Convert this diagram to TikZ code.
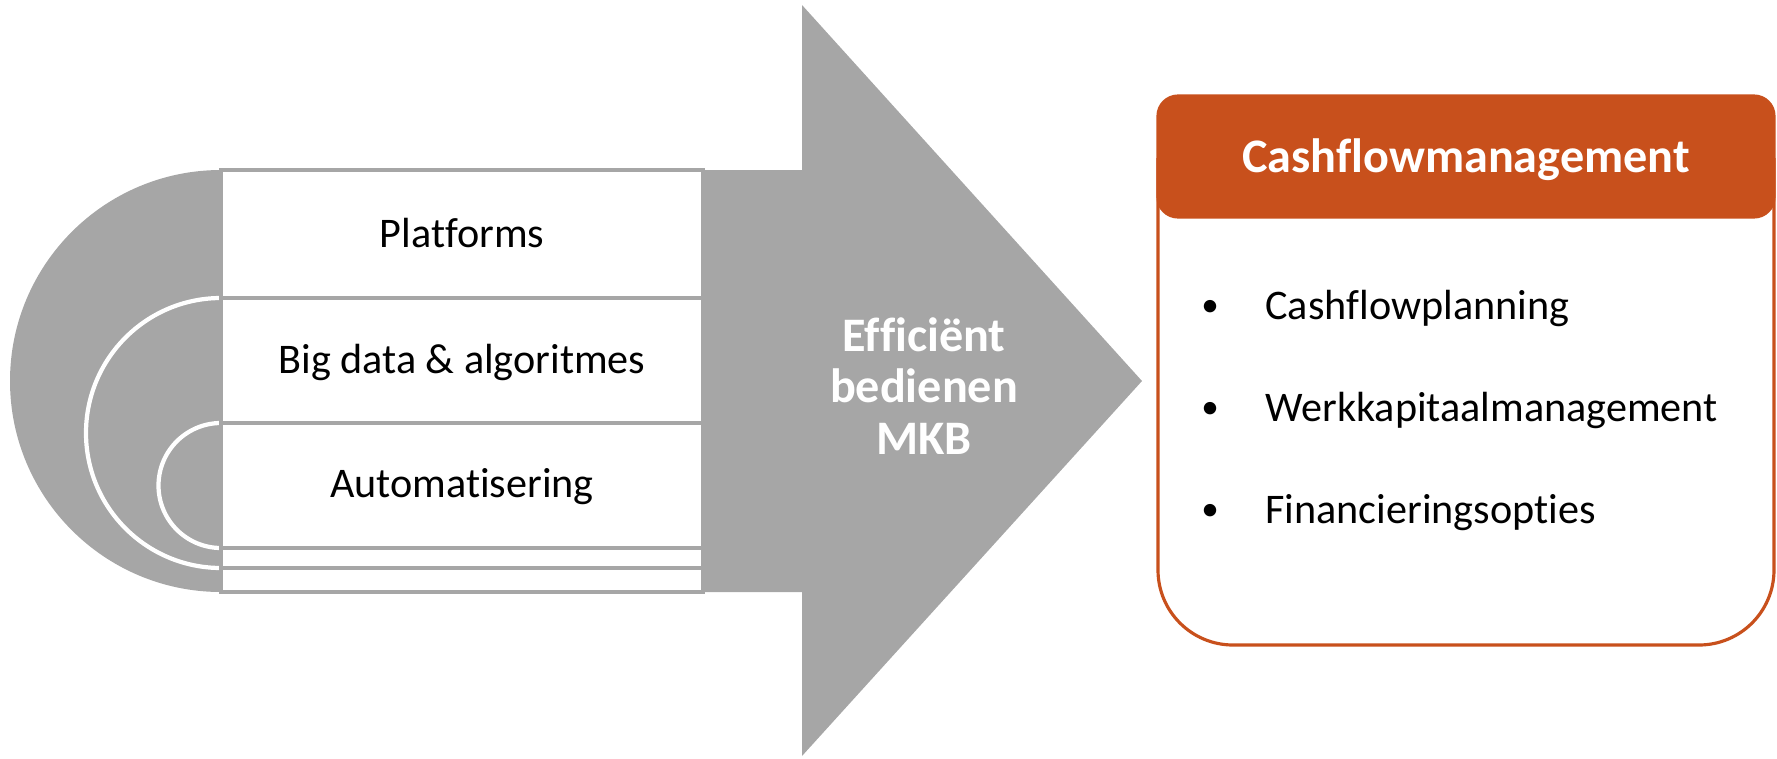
\documentclass[tikz,border=0pt]{standalone}
\usepackage{fontspec}
\setmainfont{Carlito}[Ligatures=NoCommon]
\definecolor{arrowgrey}{HTML}{A6A6A6}
\definecolor{rust}{RGB}{200,80,28}

\begin{document}
\begin{tikzpicture}[
	row/.style={draw=arrowgrey,line width=1.4pt,fill=white},
	ring/.style={draw=white,line width=1.2pt},
	rowtext/.style={anchor=base,font=\fontsize{12}{14}\selectfont},
	item/.style={anchor=base west,font=\fontsize{12}{14}\selectfont},
	dot/.style={anchor=base,font=\fontsize{10}{14}\selectfont},
	boldtext/.style={text=white,font=\fontsize{13.7}{14.7}\selectfont\bfseries}
]
\useasboundingbox (0,0) rectangle (17.77,7.58);
% arrow
\fill[arrowgrey] (2.21,5.88) arc[start angle=90,end angle=270,radius=2.11] -- (8.02,1.66) -- (8.02,0.02) -- (11.42,3.77) -- (8.02,7.53) -- (8.02,5.88) -- cycle;
\draw[ring] (2.21,4.60) arc[start angle=90,end angle=270,radius=1.35];
\draw[ring] (2.21,3.35) arc[start angle=90,end angle=270,radius=0.625];
% rows
\draw[row] (2.21,5.88) rectangle (7.03,4.60);
\draw[row] (2.21,4.60) rectangle (7.03,3.35);
\draw[row] (2.21,3.35) rectangle (7.03,2.10);
\draw[row] (2.21,2.10) rectangle (7.03,1.90);
\draw[row] (2.21,1.90) rectangle (7.03,1.66);
\node[rowtext] (platforms) at (4.62,5.105) {Platforms};
\node[rowtext] (bigdata) at (4.62,3.85) {Big data \& algoritmes};
\node[rowtext] (automatisering) at (4.62,2.61) {Automatisering};
\node[boldtext,align=center] (mkb) at (9.24,3.72) {Efficiënt\\bedienen\\MKB};
% box
\draw[rust,line width=0.9pt,rounded corners=0.75cm] (11.58,6.0) -- (11.58,1.13) -- (17.74,1.13) -- (17.74,6.0);
\draw[rust,fill=rust,line width=0.9pt,rounded corners=0.2cm] (11.58,5.41) rectangle (17.74,6.62);
\node[boldtext,anchor=base] (cashflow) at (14.66,5.86) {Cashflowmanagement};
\node[dot] (dot1) at (12.10,4.42) {\textbullet};
\node[item] (planning) at (12.53,4.39) {Cashflowplanning};
\node[dot] (dot2) at (12.10,3.40) {\textbullet};
\node[item] (werkkapitaal) at (12.53,3.37) {Werkkapitaalmanagement};
\node[dot] (dot3) at (12.10,2.38) {\textbullet};
\node[item] (financiering) at (12.53,2.35) {Financieringsopties};
\end{tikzpicture}
\end{document}
